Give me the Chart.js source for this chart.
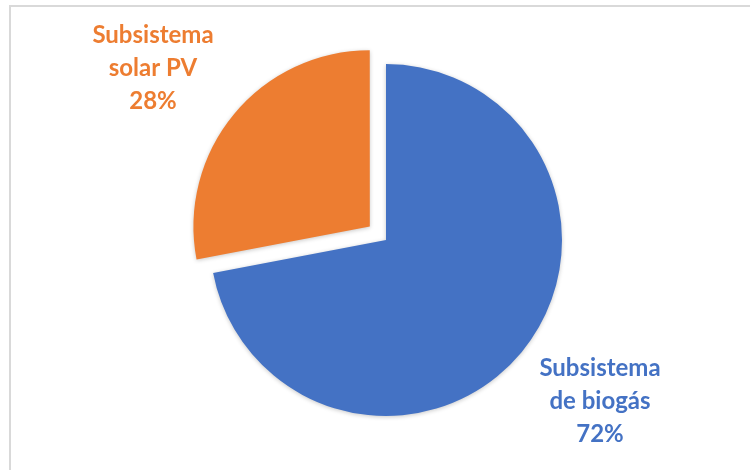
<!DOCTYPE html>
<html>
<head>
<meta charset="utf-8">
<script src="https://cdn.jsdelivr.net/npm/chart.js@4"></script>
<style>
    html, body { margin: 0; padding: 0; background: #fff; }
    #wrap { position: relative; width: 750px; height: 470px; overflow: hidden; }
    #frame { position: absolute; left: 9px; top: 5px; width: 760px; height: 480px;
             border-top: 2px solid #d9d9d9; border-left: 2px solid #d9d9d9; }
    #box { position: absolute; left: 0; top: 0; width: 750px; height: 470px; }
</style>
</head>
<body>
<div id="wrap">
    <div id="frame"></div>
    <div id="box"><canvas id="pieChart"></canvas></div>
</div>
<script>
// Данные
const categories = ['Subsistema de biogás', 'Subsistema solar PV'];
const shares = [72, 28];
const labelLines = [
    ['Subsistema', 'de biogás', '72%'],
    ['Subsistema', 'solar PV', '28%']
];
const sliceColors = ['#4472C4', '#ED7D31'];

// Подписи секторов (смещение от центра круга)
const labelPlugin = {
    id: 'sliceLabels',
    afterDatasetsDraw(chart, args, opts) {
        const ctx = chart.ctx;
        const meta = chart.getDatasetMeta(0);
        ctx.save();
        ctx.font = 'bold 24px Lato, "Open Sans", sans-serif';
        ctx.textAlign = 'center';
        ctx.textBaseline = 'alphabetic';
        meta.data.forEach((arc, i) => {
            const pos = opts.anchors[i];
            ctx.fillStyle = sliceColors[i];
            labelLines[i].forEach((line, k) => {
                ctx.fillText(line, arc.x + pos.dx, arc.y + pos.dy + k * 33);
            });
        });
        ctx.restore();
    }
};

// Лёгкая тень под секторами
const shadowPlugin = {
    id: 'sliceShadow',
    beforeDatasetsDraw(chart) {
        const ctx = chart.ctx;
        ctx.save();
        ctx.shadowColor = 'rgba(0, 0, 0, 0.22)';
        ctx.shadowBlur = 4;
        ctx.shadowOffsetX = 0;
        ctx.shadowOffsetY = 1;
    },
    afterDatasetsDraw(chart) {
        chart.ctx.restore();
    }
};

const ctx = document.getElementById('pieChart').getContext('2d');
new Chart(ctx, {
    type: 'pie',
    data: {
        labels: categories,
        datasets: [{
            data: shares,
            backgroundColor: sliceColors,
            borderWidth: 0,
            offset: [0, 84],
            hoverOffset: 0
        }]
    },
    options: {
        responsive: true,
        maintainAspectRatio: false,
        animation: false,
        events: [],
        radius: 176,
        layout: {
            padding: { left: 22, right: 0, top: 10, bottom: 0 }
        },
        plugins: {
            legend: { display: false },
            tooltip: { enabled: false },
            sliceLabels: {
                anchors: [
                    { dx: 214, dy: 136 },
                    { dx: -233, dy: -197 }
                ]
            }
        }
    },
    plugins: [shadowPlugin, labelPlugin]
});
</script>
</body>
</html>
